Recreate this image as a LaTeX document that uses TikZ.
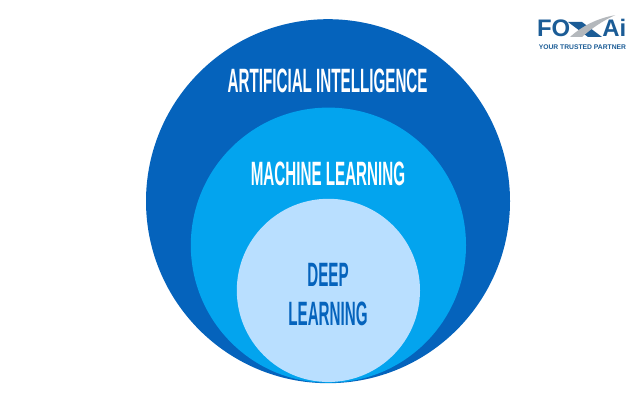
\documentclass[tikz,border=0pt]{standalone}
\usepackage{fontspec}
\setmainfont{Liberation Sans}
\definecolor{aiblue}{HTML}{0563BC}
\definecolor{mlblue}{HTML}{03A4EE}
\definecolor{dlblue}{HTML}{B9DFFF}
\definecolor{foxblue}{HTML}{1B5C96}
\definecolor{foxgrey}{HTML}{B4B8BC}
\tikzset{
	bigtext/.style={font=\bfseries\fontsize{24}{24}\selectfont,inner sep=0pt,xscale=.45},
	foxtext/.style={font=\bfseries\fontsize{17}{17}\selectfont,inner sep=0pt,text=foxblue,anchor=base west},
}
\begin{document}
\begin{tikzpicture}
	\useasboundingbox (0,0) rectangle (16,10);
	\fill[white] (0,0) rectangle (16,10);
	\fill[aiblue] (8.2,4.97) circle (4.55);
	\fill[mlblue] (8.21,3.87) circle (3.44);
	\fill[dlblue] (8.21,2.74) circle (2.29);
	\node[bigtext,text=white] (ai) at (8.19,7.98) {ARTIFICIAL INTELLIGENCE};
	\node[bigtext,text=white] (ml) at (8.2,5.65) {MACHINE LEARNING};
	\node[bigtext,text=aiblue] (deep) at (8.2,3.125) {DEEP};
	\node[bigtext,text=aiblue] (learn) at (8.2,2.15) {LEARNING};
	% logo
	\node[foxtext] (fo) at (13.42,9.075) {FO};
	\node[foxtext] (aitxt) at (15.05,9.075) {Ai};
	\fill[foxblue] (14.2,9.45) -- (14.55,9.45) -- (15.05,9.075) -- (14.7,9.075) -- cycle;
	\fill[foxgrey] (14.25,9.075) .. controls (14.55,9.35) and (14.95,9.55) .. (15.38,9.62) .. controls (15.1,9.5) and (14.8,9.3) .. (14.55,9.075) -- cycle;
	\node[font=\bfseries\fontsize{4.8}{4.8}\selectfont,inner sep=0pt,text=foxblue] (partner) at (14.56,8.82) {YOUR TRUSTED PARTNER};
\end{tikzpicture}
\end{document}
